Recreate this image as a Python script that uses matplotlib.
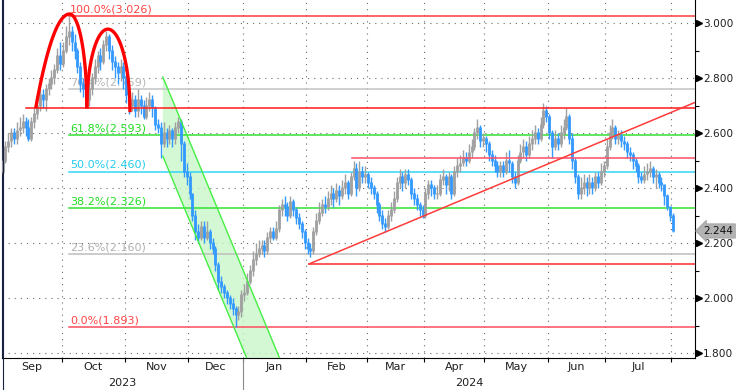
import numpy as np
import pandas as pd
import matplotlib
matplotlib.use("Agg")
import matplotlib.pyplot as plt
from matplotlib.transforms import blended_transform_factory, ScaledTranslation
from matplotlib.lines import Line2D

plt.rcParams['font.family'] = ['DejaVu Sans']

# ---------------- data ----------------
holidays = ['2023-12-25', '2023-12-26', '2024-01-01', '2024-03-29', '2024-04-01', '2024-05-01']
first_open = 2.46
closes = [
    # Sep 2023
    2.50, 2.55, 2.57, 2.60, 2.58, 2.61, 2.62, 2.64, 2.62, 2.58, 2.64, 2.67, 2.70, 2.74, 2.72, 2.76, 2.78, 2.80, 2.83, 2.88, 2.85,
    # Oct
    2.90, 2.95, 2.97, 2.93, 2.90, 2.84, 2.78, 2.76, 2.72, 2.76, 2.80, 2.84, 2.88, 2.86, 2.92, 2.95, 2.90, 2.86, 2.84, 2.82, 2.84, 2.80,
    # Nov
    2.74, 2.70, 2.72, 2.68, 2.72, 2.70, 2.66, 2.70, 2.72, 2.69, 2.63, 2.62, 2.56, 2.60, 2.58, 2.61, 2.58, 2.62, 2.64, 2.56, 2.46, 2.44,
    # Dec
    2.38, 2.30, 2.24, 2.22, 2.26, 2.22, 2.24, 2.20, 2.18, 2.12, 2.06, 2.04, 2.02, 2.00, 1.98, 1.96, 1.94, 1.95, 2.01,
    # Jan 2024
    2.02, 2.06, 2.10, 2.14, 2.16, 2.18, 2.19, 2.17, 2.22, 2.24, 2.22, 2.25, 2.32, 2.34, 2.33, 2.30, 2.35, 2.32, 2.29, 2.27, 2.24, 2.20,
    # Feb
    2.18, 2.17, 2.24, 2.28, 2.31, 2.34, 2.33, 2.36, 2.38, 2.36, 2.39, 2.37, 2.40, 2.42, 2.38, 2.44, 2.47, 2.40, 2.46, 2.44, 2.45,
    # Mar
    2.42, 2.40, 2.38, 2.34, 2.30, 2.27, 2.26, 2.30, 2.32, 2.36, 2.42, 2.44, 2.42, 2.45, 2.43, 2.38, 2.36, 2.34, 2.32, 2.30,
    # Apr
    2.38, 2.41, 2.40, 2.38, 2.38, 2.43, 2.44, 2.41, 2.44, 2.38, 2.46, 2.48, 2.49, 2.51, 2.50, 2.53, 2.55, 2.60, 2.62, 2.57, 2.58,
    # May
    2.56, 2.52, 2.50, 2.48, 2.46, 2.48, 2.46, 2.50, 2.49, 2.44, 2.42, 2.50, 2.53, 2.55, 2.52, 2.56, 2.58, 2.60, 2.58, 2.63, 2.68, 2.66,
    # Jun
    2.60, 2.55, 2.58, 2.56, 2.60, 2.62, 2.66, 2.58, 2.50, 2.44, 2.38, 2.40, 2.42, 2.40, 2.42, 2.40, 2.44, 2.42, 2.46, 2.48,
    # Jul
    2.55, 2.60, 2.62, 2.58, 2.59, 2.57, 2.56, 2.53, 2.52, 2.50, 2.48, 2.44, 2.43, 2.45, 2.46, 2.47, 2.44, 2.45, 2.42, 2.41, 2.37, 2.33, 2.30,
    # Aug
    2.244,
]
highs = [
    2.55, 2.57, 2.60, 2.62, 2.62, 2.64, 2.66, 2.67, 2.66, 2.65, 2.66, 2.69, 2.73, 2.76, 2.76, 2.78, 2.80, 2.83, 2.85, 2.91, 2.93,
    2.93, 2.99, 3.026, 2.99, 2.96, 2.91, 2.86, 2.80, 2.78, 2.79, 2.82, 2.87, 2.90, 2.91, 2.94, 2.97, 2.96, 2.92, 2.88, 2.86, 2.87, 2.86,
    2.82, 2.76, 2.75, 2.74, 2.76, 2.74, 2.72, 2.73, 2.75, 2.74, 2.70, 2.65, 2.64, 2.64, 2.62, 2.63, 2.62, 2.64, 2.66, 2.65, 2.57, 2.49,
    2.46, 2.38, 2.32, 2.27, 2.28, 2.28, 2.28, 2.25, 2.22, 2.19, 2.13, 2.08, 2.05, 2.03, 2.01, 2.00, 1.97, 1.97, 2.03,
    2.05, 2.09, 2.12, 2.17, 2.20, 2.21, 2.21, 2.21, 2.24, 2.26, 2.26, 2.28, 2.34, 2.36, 2.37, 2.35, 2.37, 2.36, 2.33, 2.31, 2.28, 2.25,
    2.22, 2.20, 2.26, 2.31, 2.35, 2.36, 2.37, 2.39, 2.41, 2.40, 2.42, 2.41, 2.43, 2.45, 2.43, 2.46, 2.50, 2.49, 2.50, 2.48, 2.48,
    2.46, 2.44, 2.41, 2.39, 2.35, 2.32, 2.29, 2.32, 2.35, 2.39, 2.44, 2.47, 2.46, 2.47, 2.47, 2.44, 2.40, 2.38, 2.35, 2.34,
    2.40, 2.43, 2.43, 2.41, 2.41, 2.45, 2.47, 2.45, 2.46, 2.45, 2.48, 2.51, 2.52, 2.54, 2.53, 2.56, 2.58, 2.62, 2.65, 2.63, 2.60,
    2.59, 2.57, 2.54, 2.52, 2.50, 2.50, 2.50, 2.53, 2.54, 2.50, 2.46, 2.52, 2.56, 2.58, 2.57, 2.59, 2.61, 2.63, 2.62, 2.66, 2.71, 2.70,
    2.67, 2.61, 2.61, 2.60, 2.63, 2.65, 2.69, 2.67, 2.60, 2.51, 2.45, 2.44, 2.45, 2.44, 2.45, 2.44, 2.46, 2.46, 2.49, 2.50,
    2.58, 2.63, 2.65, 2.63, 2.61, 2.61, 2.59, 2.57, 2.55, 2.53, 2.51, 2.49, 2.46, 2.48, 2.49, 2.50, 2.48, 2.47, 2.46, 2.44, 2.41, 2.38, 2.33,
    2.31,
]
lows = [
    2.45, 2.49, 2.53, 2.55, 2.56, 2.56, 2.59, 2.60, 2.59, 2.57, 2.57, 2.62, 2.65, 2.68, 2.69, 2.68, 2.74, 2.76, 2.78, 2.82, 2.83,
    2.84, 2.89, 2.92, 2.90, 2.87, 2.82, 2.75, 2.73, 2.69, 2.70, 2.74, 2.78, 2.82, 2.83, 2.85, 2.90, 2.87, 2.83, 2.80, 2.78, 2.79, 2.76,
    2.71, 2.67, 2.68, 2.66, 2.66, 2.67, 2.65, 2.65, 2.68, 2.66, 2.61, 2.60, 2.51, 2.55, 2.55, 2.56, 2.55, 2.56, 2.60, 2.50, 2.44, 2.41,
    2.36, 2.28, 2.21, 2.20, 2.21, 2.20, 2.21, 2.18, 2.16, 2.10, 2.03, 2.02, 2.00, 1.98, 1.96, 1.94, 1.893, 1.92, 1.93,
    1.99, 2.01, 2.05, 2.08, 2.12, 2.15, 2.16, 2.15, 2.16, 2.20, 2.21, 2.21, 2.24, 2.30, 2.30, 2.28, 2.29, 2.30, 2.27, 2.25, 2.22, 2.18,
    2.16, 2.15, 2.16, 2.23, 2.27, 2.30, 2.31, 2.32, 2.34, 2.33, 2.35, 2.34, 2.36, 2.38, 2.36, 2.37, 2.43, 2.37, 2.39, 2.42, 2.42,
    2.40, 2.38, 2.36, 2.31, 2.28, 2.25, 2.24, 2.25, 2.28, 2.31, 2.35, 2.40, 2.39, 2.40, 2.41, 2.36, 2.34, 2.32, 2.30, 2.29,
    2.29, 2.36, 2.37, 2.36, 2.36, 2.37, 2.41, 2.38, 2.39, 2.36, 2.37, 2.44, 2.46, 2.48, 2.48, 2.49, 2.51, 2.54, 2.58, 2.55, 2.55,
    2.53, 2.50, 2.48, 2.46, 2.44, 2.44, 2.44, 2.45, 2.46, 2.42, 2.40, 2.41, 2.49, 2.51, 2.50, 2.51, 2.54, 2.56, 2.56, 2.57, 2.62, 2.64,
    2.58, 2.51, 2.54, 2.54, 2.55, 2.58, 2.61, 2.56, 2.47, 2.42, 2.36, 2.36, 2.38, 2.37, 2.38, 2.38, 2.39, 2.40, 2.41, 2.44,
    2.47, 2.54, 2.58, 2.56, 2.56, 2.55, 2.54, 2.51, 2.50, 2.47, 2.46, 2.42, 2.42, 2.42, 2.43, 2.44, 2.42, 2.40, 2.40, 2.39, 2.34, 2.32, 2.28,
    2.24,
]
month_labels = ['Sep', 'Oct', 'Nov', 'Dec', 'Jan', 'Feb', 'Mar', 'Apr', 'May', 'Jun', 'Jul']
year_labels = ['2023', '2024']
last_value = 2.244

# Fibonacci retracement (drawn from the October high bar)
fib_start_bar = 23
fib_pcts = ['100.0%', '76.4%', '61.8%', '50.0%', '38.2%', '23.6%', '0.0%']
fib_values = [3.026, 2.759, 2.593, 2.460, 2.326, 2.160, 1.893]
fib_colors = ['#ff3b3b', '#c4c4c4', '#33e033', '#33d6f5', '#33e033', '#bdbdbd', '#ff4d5e']
fib_text_colors = ['#ff4444', '#b8b8b8', '#22dd22', '#22ccee', '#22dd22', '#b0b0b0', '#ff4444']

# other hand-drawn lines (bar-index, value)
hlines_start = [8.3, 121.3, 106.5]
hlines_value = [2.693, 2.508, 2.124]
hlines_color = ['#ff1a1a', '#ff4d66', '#ff2a2a']
trend_x = [106.5, 241.0]
trend_y = [2.124, 2.713]
channel_x = [55.7, 100.0]
channel_upper = [2.804, 1.688]
channel_lower = [2.516, 1.400]
arc1 = dict(x=[11.5, 23.3, 29.3], y=[2.690, 3.033, 2.690])
arc2 = dict(x=[29.3, 36.6, 44.3], y=[2.690, 2.978, 2.676])

# ---------------- figure ----------------
dates = pd.bdate_range('2023-09-01', '2024-08-01')
dates = dates[~dates.isin(pd.to_datetime(holidays))]
n = min(len(dates), len(closes))
dates = dates[:n]
closes = np.array(closes[:n]); highs = np.array(highs[:n]); lows = np.array(lows[:n])
opens = np.r_[first_open, closes[:-1]]
x = np.arange(n)

W, H = 736, 390
fig = plt.figure(figsize=(W / 100, H / 100), dpi=100)
ax = fig.add_axes([2 / W, 1 - 358 / H, 693 / W, 358 / H])
xmin, xmax = -0.2, -0.2 + 693 / 2.877
ax.set_xlim(xmin, xmax)
ax.set_ylim(1.782, 3.084)

# month boundaries & centres
months = dates.to_period('M')
starts = [0] + [i for i in range(1, n) if months[i] != months[i - 1]]
bounds = [s - 0.5 for s in starts[1:]]
ends = starts[1:] + [n]
centres = [(s + e - 1) / 2 for s, e in zip(starts, ends)]
label_centres = centres[:len(month_labels)]

# grid
dot = (0, (1, 4.5))
for b in bounds:
    ax.axvline(b, color='#6a6a6a', lw=0.8, ls=dot, zorder=0.5)
for yv in np.arange(1.8, 3.01, 0.2):
    ax.axhline(yv, color='#6a6a6a', lw=0.8, ls=dot, zorder=0.5)

# channel
ax.fill([channel_x[0], channel_x[1], channel_x[1], channel_x[0]],
        [channel_upper[0], channel_upper[1], channel_lower[1], channel_lower[0]],
        color='#c8f7c8', alpha=0.8, lw=0, zorder=1)
ax.plot(channel_x, channel_upper, color='#44ee44', lw=1.0, zorder=4)
ax.plot(channel_x, channel_lower, color='#44ee44', lw=1.0, zorder=4)

# fib lines and labels
for p, v, c, tc in zip(fib_pcts, fib_values, fib_colors, fib_text_colors):
    ax.plot([fib_start_bar, xmax], [v, v], color=c, lw=1.1, zorder=2)
    ax.text(fib_start_bar + 0.5, v + 0.006, f'{p}({v:.3f})', color=tc, fontsize=8,
            va='bottom', ha='left', zorder=2)

# bars
up = closes >= opens
cols = np.where(up, '#a0a0a0', '#3399ff')
ax.vlines(x, lows, highs, colors=cols, lw=1.0, zorder=3)
ax.vlines(x, np.minimum(opens, closes), np.maximum(opens, closes) + 0.003, colors=cols, lw=2.0, zorder=3)

# other red lines
for s, v, c in zip(hlines_start, hlines_value, hlines_color):
    ax.plot([s, xmax], [v, v], color=c, lw=1.1, zorder=4)
ax.plot(trend_x, trend_y, color='#ff3b3b', lw=1.1, zorder=4)


def arc(pts, left='parabola', right='ellipse'):
    x0, xp, x1 = pts['x']
    y0, yp, y1 = pts['y']
    xs, ys = [], []
    for t in np.linspace(-1, 0, 60):
        d = -t
        f = (1 - d ** 2) if left == 'parabola' else np.sqrt(max(0, 1 - d ** 2))
        xs.append(xp + t * (xp - x0)); ys.append(y0 + (yp - y0) * f)
    for t in np.linspace(0, 1, 60):
        f = (1 - t ** 2) if right == 'parabola' else np.sqrt(max(0, 1 - t ** 2))
        xs.append(xp + t * (x1 - xp)); ys.append(y1 + (yp - y1) * f)
    ax.plot(xs, ys, color='#ff0000', lw=2.4, solid_capstyle='butt', zorder=5)


arc(arc1, 'parabola', 'ellipse')
arc(arc2, 'ellipse', 'ellipse')

# axes styling
ax.spines['top'].set_visible(False)
ax.spines['left'].set_color('#1a2040')
ax.spines['right'].set_color('black')
ax.spines['bottom'].set_color('black')

ax.set_xticks(label_centres)
ax.set_xticklabels(month_labels, fontsize=8, color='#202020')
ax.set_xticks(bounds, minor=True)
ax.tick_params(axis='x', which='major', length=0, pad=3)
ax.tick_params(axis='x', which='minor', length=3, width=0.8, direction='out', color='black')

ax.yaxis.tick_right()
yt = np.round(np.arange(1.8, 3.01, 0.2), 3)
ax.set_yticks(yt)
ax.set_yticklabels([f'{v:.3f}' for v in yt], fontsize=7.6, color='#202020')
ax.set_yticks(np.round(np.arange(1.9, 3.01, 0.2), 3), minor=True)
ax.tick_params(axis='y', which='major', length=0, pad=6)
ax.tick_params(axis='y', which='minor', length=3, width=0.8, direction='out', color='black')

tri_tr = ax.get_yaxis_transform() + ScaledTranslation(0.035, 0, fig.dpi_scale_trans)
ax.plot(np.ones(len(yt)), yt, ls='none', marker='>', ms=5, color='black',
        transform=tri_tr, clip_on=False, zorder=6)

# last value tag
ax.annotate(f'{last_value:.3f}', xy=(1, last_value), xycoords=('axes fraction', 'data'),
            xytext=(6, 0), textcoords='offset points', va='center', ha='left', fontsize=7.6,
            color='#111111', annotation_clip=False,
            bbox=dict(boxstyle='larrow,pad=0.2', fc='#b3b3b3', ec='#a0a0a0', lw=0.6), zorder=7)

# year labels and separator
blend = blended_transform_factory(ax.transData, ax.transAxes)
year_split = bounds[3]
yr_tr = blend + ScaledTranslation(0, -0.25, fig.dpi_scale_trans)
ax.text((xmin + year_split) / 2, 0, year_labels[0], transform=yr_tr, ha='center', va='center',
        fontsize=8, color='#202020')
ax.text((year_split + xmax) / 2, 0, year_labels[1], transform=yr_tr, ha='center', va='center',
        fontsize=8, color='#202020')
ax.add_line(Line2D([year_split, year_split], [0, -32 / 358], transform=blend, color='#8a8a8a',
                   lw=0.8, clip_on=False))
fig.add_artist(Line2D([2.5 / W, 2.5 / W], [0, 1], color='#1a2040', lw=0.8))

fig.savefig('out.png', dpi=100)
